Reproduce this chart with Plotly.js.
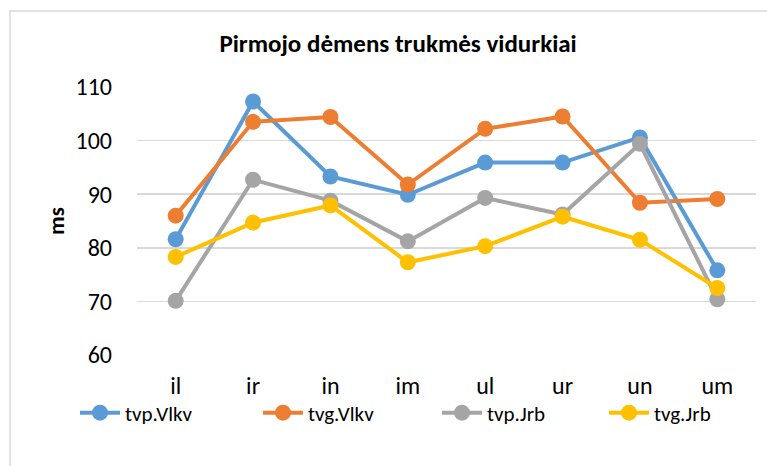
<!DOCTYPE html>
<html>
<head>
<meta charset="utf-8">
<script src="https://cdn.plot.ly/plotly-3.0.1.min.js"></script>
<style>html,body{margin:0;padding:0;background:#fff;}#chart{width:767px;height:466px;}</style>
</head>
<body>
<div id="chart"></div>
<script>
const categories = ["il", "ir", "in", "im", "ul", "ur", "un", "um"];
const seriesNames = ["tvp.Vlkv", "tvg.Vlkv", "tvp.Jrb", "tvg.Jrb"];
const tvpVlkv = [81.6, 107.3, 93.3, 89.9, 95.9, 95.9, 100.6, 75.8];
const tvgVlkv = [86.0, 103.5, 104.4, 91.8, 102.2, 104.5, 88.4, 89.1];
const tvpJrb  = [70.1, 92.7, 88.8, 81.2, 89.3, 86.2, 99.4, 70.4];
const tvgJrb  = [78.3, 84.7, 87.9, 77.3, 80.3, 85.8, 81.5, 72.5];
const colors = ["#5B9BD5", "#ED7D31", "#A5A5A5", "#FFC000"];
const allSeries = [tvpVlkv, tvgVlkv, tvpJrb, tvgJrb];

const FONT = "Carlito, Calibri, Lato, 'Liberation Sans', sans-serif";
const legendIds = ["legend", "legend2", "legend3", "legend4"];
const legendLeft = [75, 258, 437, 604];

const traces = allSeries.map((vals, i) => ({
  type: "scatter",
  mode: "lines+markers",
  name: seriesNames[i],
  legend: legendIds[i],
  x: categories,
  y: vals,
  line: {color: colors[i], width: 4},
  marker: {color: colors[i], size: 16}
}));

const layout = {
  width: 767,
  height: 466,
  paper_bgcolor: "#fff",
  plot_bgcolor: "#fff",
  margin: {l: 137, r: 11, t: 87, b: 111},
  font: {family: FONT, color: "#000"},
  title: {
    text: "<b>Pirmojo dėmens trukmės vidurkiai</b>",
    font: {family: FONT, size: 25, color: "#000"},
    x: 0.519, xanchor: "center", xref: "container",
    y: 45, yref: "container", yanchor: "middle"
  },
  xaxis: {
    type: "category",
    range: [-0.5, 7.5],
    showgrid: false,
    zeroline: false,
    showline: false,
    ticks: "",
    ticklabelstandoff: 14,
    tickfont: {family: FONT, size: 24, color: "#000"},
    fixedrange: true
  },
  yaxis: {
    range: [60, 110],
    dtick: 10,
    showgrid: true,
    gridcolor: "#D9D9D9",
    gridwidth: 1.5,
    zeroline: false,
    showline: false,
    ticks: "",
    ticklabelstandoff: 24,
    tickfont: {family: FONT, size: 24, color: "#000"},
    title: {text: "<b>ms</b>", font: {family: FONT, size: 23, color: "#000"}, standoff: 4}
  },
  showlegend: true,
  shapes: [{
    type: "rect", xref: "paper", yref: "paper",
    x0: -127/619, x1: 1 + 30/619, y0: -120/268, y1: 1 + 76/268,
    line: {color: "#D9D9D9", width: 1.5}, layer: "below"
  }]
};

legendIds.forEach((id, i) => {
  layout[id] = {
    orientation: "h",
    xref: "container", yref: "container",
    x: legendLeft[i] / 767, xanchor: "left",
    y: 53/466, yanchor: "middle",
    font: {family: FONT, size: 21, color: "#000"},
    itemwidth: 40,
    bgcolor: "rgba(0,0,0,0)"
  };
});

Plotly.newPlot("chart", traces, layout, {staticPlot: true});
</script>
</body>
</html>
